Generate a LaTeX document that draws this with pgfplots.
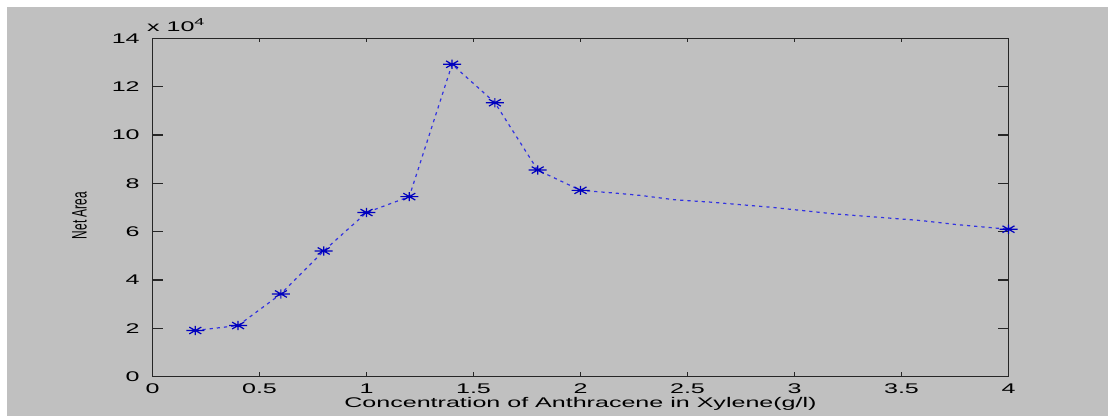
\documentclass[border=0pt]{standalone}
\usepackage{fontspec}
\setmainfont{Liberation Sans}[FakeStretch=1.79]
\newfontfamily\plainsans{Liberation Sans}
\usepackage{graphicx}
\usepackage{pgfplots}
\pgfplotsset{compat=1.18}
\definecolor{mlgray}{HTML}{C0C0C0}
\definecolor{mlline}{RGB}{50,50,225}
\definecolor{mlmark}{RGB}{0,0,190}
% matlab style star: plus and cross together, wider than tall
\pgfdeclareplotmark{mstar}{%
  \pgfpathmoveto{\pgfqpoint{-4.5pt}{0pt}}\pgfpathlineto{\pgfqpoint{4.5pt}{0pt}}%
  \pgfpathmoveto{\pgfqpoint{0pt}{-2.3pt}}\pgfpathlineto{\pgfqpoint{0pt}{2.3pt}}%
  \pgfpathmoveto{\pgfqpoint{-3pt}{-1.7pt}}\pgfpathlineto{\pgfqpoint{3pt}{1.7pt}}%
  \pgfpathmoveto{\pgfqpoint{-3pt}{1.7pt}}\pgfpathlineto{\pgfqpoint{3pt}{-1.7pt}}%
  \pgfusepathqstroke}

\begin{document}
\begin{tikzpicture}
\path[use as bounding box, fill=white] (-76.25pt,-19.75pt) rectangle (477.75pt,188.25pt);
\fill[mlgray] (-72.75pt,-19.75pt) rectangle (477.75pt,184.75pt);
\begin{axis}[
  at={(0,0)}, anchor=south west,
  width=428pt, height=169pt, scale only axis,
  xmin=0, xmax=4, ymin=0, ymax=140000,
  xtick={0,0.5,...,4}, ytick={0,20000,...,140000},
  scaled y ticks=base 10:-4,
  ytick scale label code/.code={x 10\textsuperscript{#1}},
  every y tick scale label/.style={at={(rel axis cs:0,1)}, anchor=south west, inner sep=0pt, yshift=3pt},
  font=\fontsize{7}{8}\selectfont,
  /pgf/number format/assume math mode=true,
  axis line style={black!85, line width=0.7pt},
  tick style={black!85, line width=0.6pt},
  xtick style={/pgfplots/major tick length=2pt},
  ytick style={/pgfplots/major tick length=5.5pt},
  yticklabel style={xshift=-2.9pt},
  xlabel={Concentration of Anthracene in Xylene(g/l)},
  ylabel={\plainsans\scalebox{0.85}[1.5]{Net Area}},
  xlabel style={at={(axis description cs:0.5,0)}, anchor=center, yshift=-13.75pt},
  ylabel style={at={(axis description cs:-0.0853,0.476)}, anchor=center},
  clip=false,
]
% dotted line, read along its path
\addplot[mlline, line width=0.6pt, dash pattern=on 1.6pt off 2pt] coordinates {
  (0.2,19050) (0.4,21100) (0.6,34200) (0.8,52000) (1.0,67900) (1.2,74500)
  (1.4,129300) (1.6,113400) (1.8,85500) (2.0,77100)
  (2.17,75900) (2.28,75000) (2.44,73200) (2.61,72200) (2.89,70100)
  (3.18,67400) (3.43,65700) (3.59,64600) (3.76,62900) (4.0,61000)
};
% measured points
\addplot[only marks, mark=mstar, mark options={mlmark, line width=0.6pt}] coordinates {
  (0.2,19050) (0.4,21100) (0.6,34200) (0.8,52000) (1.0,67900) (1.2,74500)
  (1.4,129300) (1.6,113400) (1.8,85500) (2.0,77100) (4.0,61000)
};
\end{axis}
\end{tikzpicture}
\end{document}
